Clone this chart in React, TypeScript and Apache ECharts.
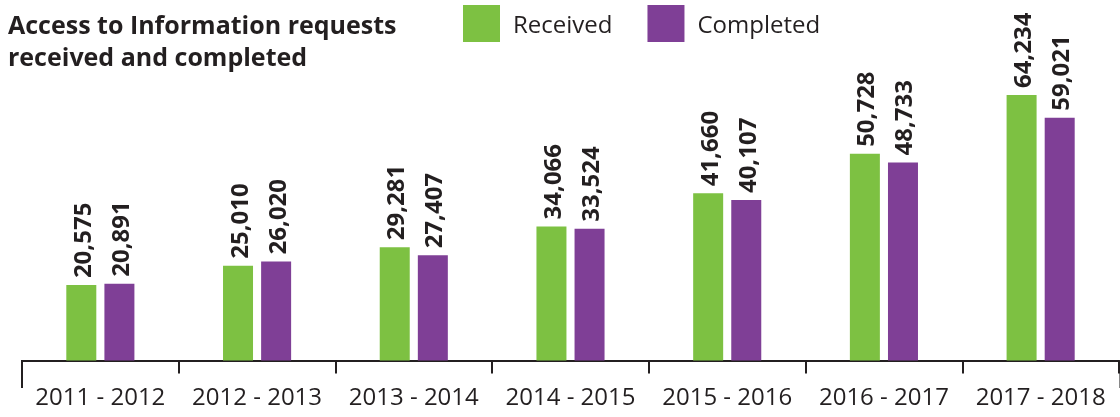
import React, { useEffect, useRef } from "react";
import * as echarts from "echarts";

const titleText = "Access to Information requests\nreceived and completed";
const categories = [
  "2011 - 2012",
  "2012 - 2013",
  "2013 - 2014",
  "2014 - 2015",
  "2015 - 2016",
  "2016 - 2017",
  "2017 - 2018",
];
const seriesNames = ["Received", "Completed"];
const received = [20575, 25010, 29281, 34066, 41660, 50728, 64234];
const completed = [20891, 26020, 27407, 33524, 40107, 48733, 59021];

const GREEN = "#7dc142";
const PURPLE = "#7f3f96";
const TEXT = "#231f20";
const FONT = "'Open Sans', sans-serif";

export default function App() {
  const ref = useRef<HTMLDivElement>(null);
  useEffect(() => {
    if (!ref.current) return;
    const chart = echarts.init(ref.current, undefined, { renderer: "svg" });
    const fmt = (p: any) => Number(p.value).toLocaleString("en-US");
    const label = {
      show: true,
      position: "top",
      rotate: 90,
      align: "left",
      verticalAlign: "middle",
      distance: 7,
      color: TEXT,
      fontFamily: FONT,
      fontWeight: "bold",
      fontSize: 24,
      formatter: fmt,
    };
    chart.setOption({
      animation: false,
      title: {
        text: titleText,
        left: 8,
        top: 8,
        padding: 0,
        textStyle: {
          fontFamily: FONT,
          fontWeight: "bold",
          fontSize: 25,
          lineHeight: 32,
          color: TEXT,
        },
      },
      legend: {
        data: seriesNames,
        left: 463,
        top: 5,
        padding: 0,
        icon: "rect",
        itemWidth: 37,
        itemHeight: 37,
        itemGap: 35,
        textStyle: {
          fontFamily: FONT,
          fontSize: 24,
          color: TEXT,
          padding: [0, 0, 0, 8],
        },
      },
      grid: { left: 22, right: 1, top: 70, bottom: 56.5, containLabel: false },
      xAxis: {
        type: "category",
        data: categories,
        boundaryGap: true,
        axisLine: { lineStyle: { color: TEXT, width: 2 } },
        axisTick: {
          show: true,
          interval: 0,
          length: 13,
          lineStyle: { color: TEXT, width: 2 },
        },
        axisLabel: {
          interval: 0,
          color: TEXT,
          fontFamily: FONT,
          fontSize: 24,
          margin: 23,
        },
      },
      yAxis: {
        type: "value",
        min: 3250,
        max: 70000,
        show: false,
        splitLine: { show: false },
      },
      series: [
        {
          name: seriesNames[0],
          type: "bar",
          data: received,
          barWidth: 30,
          barGap: "27%",
          itemStyle: { color: GREEN },
          label,
        },
        {
          name: seriesNames[1],
          type: "bar",
          data: completed,
          barWidth: 30,
          barGap: "27%",
          itemStyle: { color: PURPLE },
          label,
        },
      ],
      graphic: [
        {
          type: "line",
          shape: { x1: 22, y1: 360, x2: 22, y2: 388 },
          style: { stroke: TEXT, lineWidth: 2 },
        },
        {
          type: "line",
          shape: { x1: 1119.5, y1: 360, x2: 1119.5, y2: 388 },
          style: { stroke: "#888", lineWidth: 1 },
        },
      ],
    });
    return () => chart.dispose();
  }, []);
  return (
    <div
      ref={ref}
      style={{ position: "fixed", left: 0, top: 0, width: 1120, height: 417 }}
    />
  );
}
